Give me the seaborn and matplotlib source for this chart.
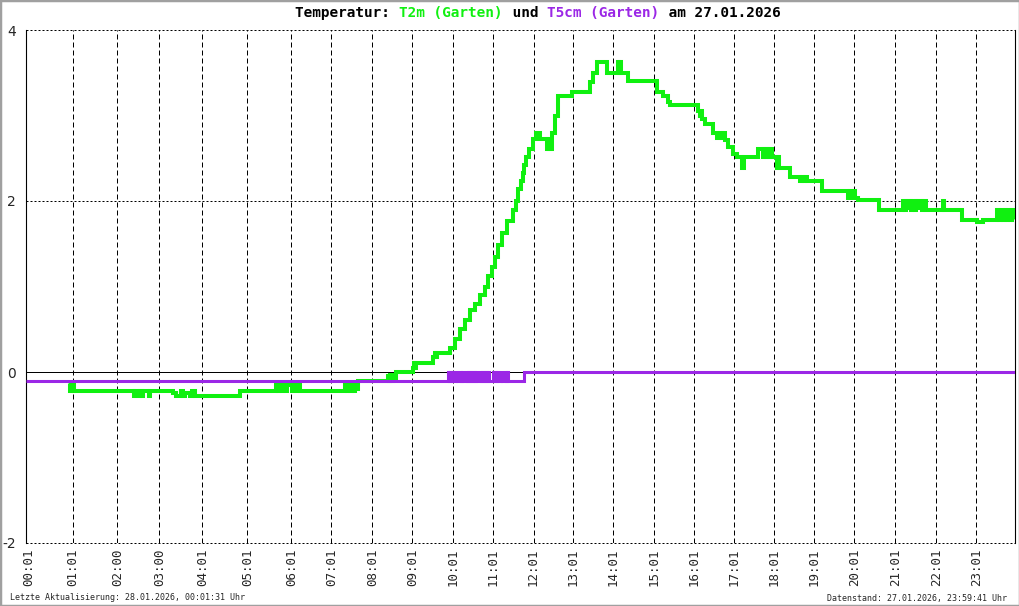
import matplotlib
matplotlib.use("Agg")
from matplotlib import pyplot as plt
from matplotlib.patches import Rectangle
import seaborn as sns

# Messwert-Nr. (ein Wert pro Pixelspalte) und Temperatur in Grad C
t2m_idx = [43, 44, 45, 46, 47, 48, 108, 109, 113, 114, 116, 117, 123, 124,
           148, 151, 156, 158, 160, 165, 167, 170, 215,
           250, 252, 253, 255, 257, 258, 261, 262, 265, 267, 268, 271, 272, 275,
           320, 322, 323, 325, 327, 329, 330, 332, 333,
           363, 364, 365, 367, 368, 370, 371,
           388, 389, 390, 391, 408, 410, 411, 412,
           425, 430, 435, 440, 445, 450, 455, 460, 463, 467, 470, 473, 477, 482,
           487, 490, 492, 495, 497, 498, 500, 503, 507, 510, 515,
           522, 523, 524, 525, 526, 527, 530, 533, 547, 565, 568, 572, 582,
           593, 594, 595, 596, 603, 632, 638, 643, 645,
           673, 675, 676, 677, 680, 688, 692, 695, 697, 698, 700, 703, 708, 712,
           717, 719, 733, 738, 739, 741, 742, 744, 745, 747, 752, 753, 754,
           765, 775, 777, 779, 780, 782, 797,
           823, 825, 827, 829, 830, 833, 854,
           878, 880, 881, 883, 884, 886, 887, 890, 891, 893, 894, 897, 898, 901,
           918, 919, 937, 952, 958,
           972, 974, 976, 978, 980, 981, 983, 985, 986, 988, 989]
t2m_val = [-0.13, -0.22, -0.13, -0.22, -0.15, -0.22, -0.28, -0.22, -0.28, -0.22, -0.28, -0.22, -0.28, -0.22,
           -0.25, -0.28, -0.22, -0.28, -0.25, -0.28, -0.22, -0.28, -0.22,
           -0.13, -0.22, -0.13, -0.15, -0.22, -0.13, -0.22, -0.13, -0.15, -0.22, -0.13, -0.22, -0.13, -0.22,
           -0.13, -0.22, -0.13, -0.22, -0.13, -0.22, -0.13, -0.2, -0.1,
           -0.05, -0.1, -0.03, -0.1, -0.05, -0.08, 0.0,
           0.05, 0.11, 0.05, 0.11, 0.17, 0.22, 0.17, 0.22,
           0.28, 0.39, 0.5, 0.61, 0.73, 0.79, 0.9, 1.0, 1.12, 1.23, 1.34, 1.49, 1.62, 1.77,
           1.9, 2.0, 2.14, 2.23, 2.33, 2.42, 2.51, 2.61, 2.73, 2.79, 2.73,
           2.61, 2.73, 2.61, 2.67, 2.61, 2.8, 3.0, 3.23, 3.28, 3.39, 3.5, 3.62, 3.5,
           3.62, 3.5, 3.62, 3.5, 3.4, 3.28, 3.23, 3.16, 3.12,
           3.05, 3.0, 3.05, 2.96, 2.9, 2.8, 2.74, 2.8, 2.74, 2.8, 2.71, 2.63, 2.55, 2.51,
           2.39, 2.51, 2.61, 2.51, 2.61, 2.51, 2.61, 2.51, 2.61, 2.51, 2.39, 2.51, 2.39,
           2.28, 2.23, 2.28, 2.23, 2.28, 2.23, 2.12,
           2.04, 2.12, 2.04, 2.12, 2.04, 2.01, 1.9,
           2.0, 1.9, 2.0, 1.92, 2.0, 1.9, 2.0, 1.9, 2.0, 1.92, 2.0, 1.9, 2.0, 1.9,
           2.0, 1.9, 1.78, 1.75, 1.78,
           1.9, 1.78, 1.9, 1.78, 1.9, 1.78, 1.9, 1.78, 1.9, 1.78, 1.78]

t5cm_idx = [0,
            423, 424, 425, 426, 427, 428,
            431, 432,
            435, 436, 437, 438, 439,
            441, 442, 443, 444, 445, 446, 447, 448, 449, 450, 451, 452, 453,
            455, 456, 457, 458, 459, 460, 461, 462, 463, 464,
            468, 469, 470, 471, 472, 473,
            476, 477,
            480, 481, 482, 483, 484,
            498, 990]
t5cm_val = [-0.1,
            0.0, -0.1, 0.0, -0.1, 0.0, -0.1,
            0.0, -0.1,
            0.0, -0.1, 0.0, -0.1, -0.1,
            0.0, -0.1, 0.0, -0.1, 0.0, -0.1, 0.0, -0.1, 0.0, -0.1, 0.0, -0.1, -0.1,
            0.0, -0.1, 0.0, -0.1, 0.0, -0.1, 0.0, -0.1, 0.0, -0.1,
            0.0, -0.1, 0.0, -0.1, 0.0, -0.1,
            0.0, -0.1,
            0.0, -0.1, 0.0, -0.1, -0.1,
            0.0, 0.0]

hour_idx = [3, 47, 92, 134, 177, 222, 266, 306, 347, 387, 428, 468, 508, 548,
            588, 629, 669, 709, 749, 789, 829, 870, 911, 951]
hour_labels = ['00:01', '01:01', '02:00', '03:00', '04:01', '05:01', '06:01', '07:01',
               '08:01', '09:01', '10:01', '11:01', '12:01', '13:01', '14:01', '15:01',
               '16:01', '17:01', '18:01', '19:01', '20:01', '21:01', '22:01', '23:01']
y_ticks = [-2, 0, 2, 4]

green = '#10f010'
purple = '#9b27e6'

sns.set_style("white")
plt.rcParams['font.family'] = ['DejaVu Sans', 'DejaVu Sans Mono']

W, H = 1020, 606
fig = plt.figure(figsize=(W / 100, H / 100), dpi=100)
ax = fig.add_axes([25.5 / W, 1 - 543 / H, 990 / W, 513 / H])

# gitter
ax.set_xlim(0, 990)
ax.set_ylim(-2, 4)
ax.set_xticks(hour_idx)
ax.set_xticklabels(hour_labels, rotation=90, family=['Liberation Sans Narrow', 'DejaVu Sans Mono'],
                   fontsize=9)
ax.set_yticks(y_ticks)
ax.set_yticklabels([str(v) for v in y_ticks], fontsize=10)
ax.tick_params(axis='x', length=0, pad=4)
ax.tick_params(axis='y', direction='inout', length=7.2, width=0.72, pad=3.5)
ax.xaxis.grid(True, color='black', lw=0.72, dashes=(5, 3))
ax.yaxis.grid(True, color='black', lw=0.72, dashes=(2, 2))
ax.get_xgridlines()[0].set_visible(False)
for gl in ax.get_ygridlines():
    gl.set_clip_on(False)
ax.axhline(0, color='black', lw=0.72, zorder=1.5)

for s in ['top', 'bottom']:
    ax.spines[s].set_visible(False)
for s in ['left', 'right']:
    ax.spines[s].set_color('black')
    ax.spines[s].set_linewidth(0.8)

sns.lineplot(x=t2m_idx, y=t2m_val, ax=ax, color=green, lw=2.9, drawstyle='steps-post',
             solid_joinstyle='miter', solid_capstyle='butt', zorder=3)
sns.lineplot(x=t5cm_idx, y=t5cm_val, ax=ax, color=purple, lw=2.2, drawstyle='steps-post',
             solid_joinstyle='miter', solid_capstyle='butt', zorder=4)
ax.set_xlabel('')
ax.set_ylabel('')

# titel in farbigen teilen (monospace)
parts = [('Temperatur: ', 'black'), ('T2m (Garten)', green), (' und ', 'black'),
         ('T5cm (Garten)', purple), (' am 27.01.2026', 'black')]
fs = 10.4
cw = 0.602 * fs / 72 * 100 / W
x0 = 295 / W
for txt, c in parts:
    fig.text(x0, 1 - 13 / H, txt, color=c, fontsize=fs, family='DejaVu Sans Mono',
             weight='bold', ha='left', va='center')
    x0 += len(txt) * cw

fig.text(10 / W, 1 - 598 / H, 'Letzte Aktualisierung: 28.01.2026, 00:01:31 Uhr',
         fontsize=6, family='DejaVu Sans Mono', ha='left', va='center')
fig.text(1007 / W, 1 - 598 / H, 'Datenstand: 27.01.2026, 23:59:41 Uhr',
         fontsize=6, family='DejaVu Sans Mono', ha='right', va='center')

fig.patches.append(Rectangle((0, 0), 1, 1, transform=fig.transFigure, fill=False,
                             edgecolor='#a0a0a0', lw=2.5))

fig.savefig('out.png', dpi=100)
